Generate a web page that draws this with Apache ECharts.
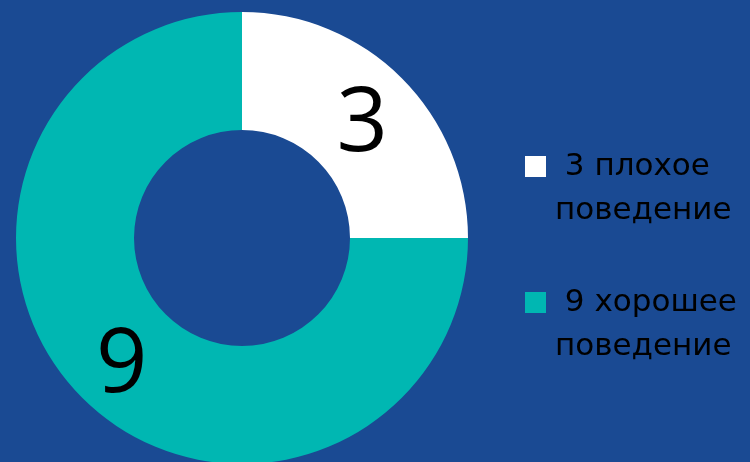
<!DOCTYPE html>
<html>
<head>
<meta charset="utf-8">
<script src="https://cdn.jsdelivr.net/npm/echarts@6/dist/echarts.min.js"></script>
<style>
html,body{margin:0;padding:0;background:#1a4a93;}
#c{width:750px;height:462px;}
</style>
</head>
<body>
<div id="c"></div>
<script>
var categories = ['плохое поведение', 'хорошее поведение'];
var values = [3, 9];
var legendFirst = ['3 плохое', '9 хорошее'];
var legendSecond = ['поведение', 'поведение'];
var colors = ['#ffffff', '#00b7b2'];

var chart = echarts.init(document.getElementById('c'));
chart.setOption({
  backgroundColor: '#1a4a93',
  animation: false,
  color: colors,
  legend: {
    orient: 'vertical',
    left: 525,
    top: 107,
    padding: 0,
    itemWidth: 21,
    itemHeight: 21,
    itemGap: 17,
    icon: 'rect',
    data: categories,
    formatter: function (name) {
      var i = categories.indexOf(name);
      return '{e| }\n{a| ' + legendFirst[i] + '}\n{a|' + legendSecond[i] + '}';
    },
    textStyle: {
      color: '#000',
      fontFamily: 'DejaVu Sans',
      fontSize: 31,
      padding: [0, 0, 0, 4],
      rich: {
        e: { fontSize: 31, lineHeight: 44, fontFamily: 'DejaVu Sans' },
        a: { fontSize: 31, lineHeight: 44, color: '#000', fontFamily: 'DejaVu Sans' }
      }
    }
  },
  series: [{
    type: 'pie',
    center: [242, 238],
    radius: [108, 226],
    startAngle: 90,
    clockwise: true,
    avoidLabelOverlap: false,
    label: {
      show: true,
      position: 'inside',
      formatter: '{c}',
      color: '#000',
      fontFamily: 'Open Sans',
      fontSize: 90,
      offset: [0, 8],
      textBorderWidth: 0
    },
    labelLine: { show: false },
    emphasis: { disabled: true },
    itemStyle: { borderWidth: 0 },
    data: categories.map(function (n, i) { return { name: n, value: values[i] }; })
  }]
});
</script>
</body>
</html>
